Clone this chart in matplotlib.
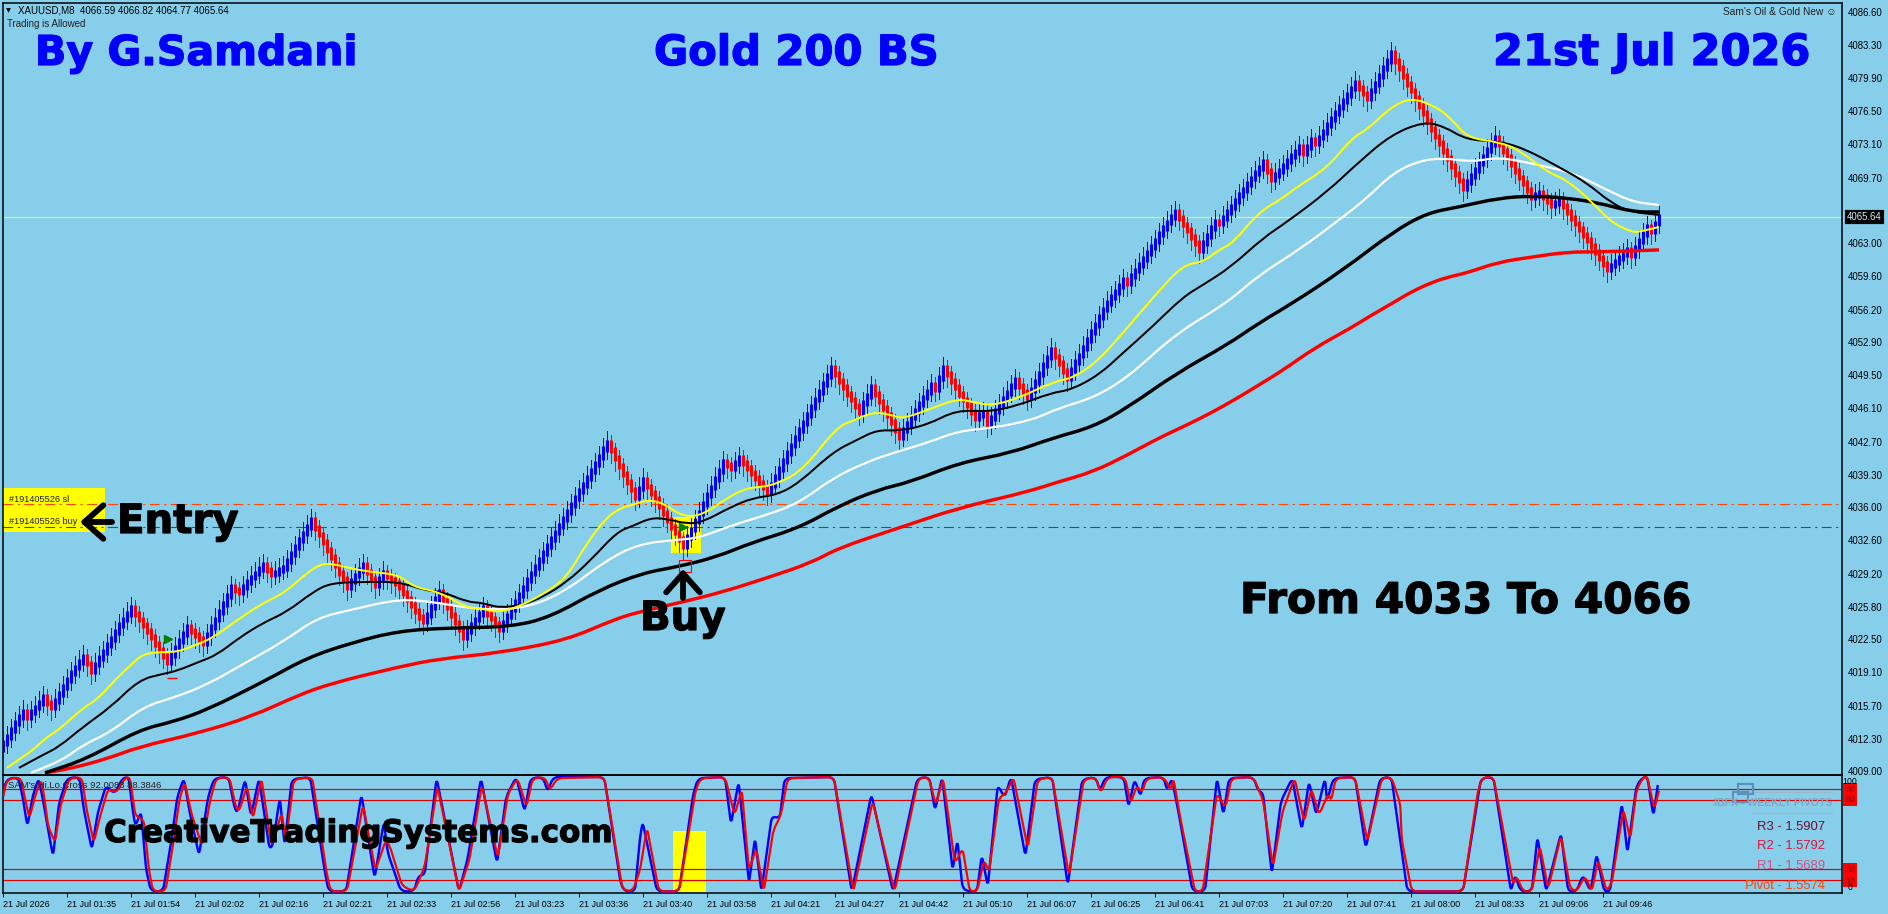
import numpy as np
import matplotlib
matplotlib.use("Agg")
import matplotlib.pyplot as plt
import matplotlib.patheffects as pe
from matplotlib.patches import Rectangle, PathPatch
from matplotlib.path import Path

# ---------- data ----------
closes = [
 4011.9,4012.5,4013.2,4013.9,4014.5,4015.1,4014.5,4015.0,4015.5,4016.0,4016.6,4016.0,4015.5,
 4016.2,4016.9,4017.6,4018.3,4019.0,4019.6,4020.2,4020.7,4020.0,4019.2,
 4019.9,4020.6,4021.2,4021.9,4022.5,4023.2,4023.9,4024.5,4025.1,4025.7,
 4025.1,4024.5,4023.9,4023.3,4022.7,4022.0,4021.4,4020.8,4020.2,
 4020.9,4021.6,4022.3,4023.0,4023.7,4023.3,4022.9,4022.5,4022.1,
 4022.9,4023.7,4024.5,4025.3,4026.1,4026.9,4027.8,4027.5,4027.3,
 4027.8,4028.3,4028.8,4029.2,4029.7,4030.1,4029.6,4029.1,4029.3,4029.6,4029.8,
 4030.5,4031.2,4031.9,4032.6,4033.3,4034.0,4034.7,
 4033.9,4033.2,4032.4,4031.6,4030.9,4030.1,4029.3,4028.6,4027.8,
 4028.4,4029.0,4029.6,4030.1,4029.4,4028.7,4028.0,4028.6,4029.3,
 4028.9,4028.5,4028.2,4027.8,4027.2,4026.6,4026.0,4025.4,4024.8,4024.3,
 4025.0,4025.8,4026.6,4027.3,4026.5,4025.8,4025.0,4024.2,4023.5,4022.7,
 4023.3,4023.9,4024.5,4025.1,4025.7,4025.1,4024.6,4024.0,4023.5,
 4024.2,4024.9,4025.6,4026.3,4027.0,4027.7,4028.5,4029.2,4029.9,4030.6,4031.3,4032.0,4032.7,
 4033.4,4034.1,4034.8,4035.5,4036.2,4036.9,4037.6,4038.3,4039.0,4039.7,4040.4,4041.1,4041.9,4042.6,
 4041.8,4041.0,4040.2,4039.4,4038.6,4037.8,4037.0,4037.9,4038.8,
 4038.1,4037.4,4036.8,4036.1,4035.4,4034.7,4034.0,4033.4,4032.7,4032.0,
 4032.9,4033.7,4034.6,4035.4,4036.3,4037.2,4038.0,4038.9,4039.7,4040.6,
 4040.3,4040.0,4040.5,4041.0,4040.5,4040.0,4039.5,4039.0,4038.5,4038.0,4037.5,
 4038.3,4039.1,4039.9,4040.7,4041.5,4042.3,4043.1,4043.9,4044.6,4045.4,4046.2,4047.0,4047.8,4048.6,4049.4,4050.2,
 4049.6,4048.9,4048.3,4047.6,4047.0,4046.3,4045.7,4046.6,4047.4,4048.3,
 4047.6,4046.8,4046.1,4045.4,4044.7,4043.9,4043.2,
 4043.9,4044.5,4045.2,4045.8,4046.5,4047.2,4047.8,4048.5,4048.1,4049.2,4050.2,
 4049.6,4048.9,4048.3,4047.6,4047.0,4046.4,4045.7,4045.1,4045.4,4045.6,4044.5,
 4045.1,4045.8,4046.4,4047.1,4047.7,4048.4,4049.0,4048.4,4047.8,4047.2,
 4048.0,4048.8,4049.6,4050.5,4051.3,4052.1,4051.4,4050.7,4049.9,4049.2,
 4050.0,4050.8,4051.5,4052.3,4053.1,4053.9,4054.6,4055.4,4056.2,4056.9,
 4057.5,4058.0,4058.6,4059.2,4058.9,
 4059.6,4060.2,4060.8,4061.4,4062.0,4062.6,4063.2,4063.9,4064.5,4065.1,4065.7,4066.2,
 4065.6,4064.9,4064.3,4063.6,4063.0,4062.3,4063.0,4063.7,4064.5,4065.2,4065.0,
 4065.6,4066.2,4066.7,4067.3,4067.9,4068.4,4069.0,4069.6,4070.2,4070.7,4071.3,4070.4,4069.5,
 4070.0,4070.4,4070.9,4071.4,4071.9,4072.3,4072.8,4072.2,4072.8,4073.5,4073.2,
 4073.8,4074.4,4075.1,4075.7,4076.3,4076.9,4077.5,4078.1,4078.8,4079.4,4078.9,4078.3,4077.8,
 4078.6,4079.3,4080.1,4080.9,4081.6,4082.4,
 4081.6,4080.9,4080.1,4079.3,4078.6,4077.8,4077.0,4076.3,4075.5,4074.7,4073.9,4073.2,4072.4,4071.7,4070.9,4070.1,4069.4,4068.6,
 4069.2,4069.9,4070.5,4071.2,4071.8,4072.5,4073.1,4073.8,
 4073.1,4072.4,4071.8,4071.1,4070.4,4069.7,4069.1,4068.4,4067.7,4067.9,4068.1,4067.7,4067.3,4066.9,4067.1,4067.4,
 4066.8,4066.2,4065.6,4065.0,4064.4,4063.8,4063.3,4062.7,4062.1,4061.5,4060.9,4060.3,
 4060.7,4061.1,4061.5,4061.9,4062.3,4061.8,4062.5,4063.2,4063.9,4064.6,4064.2,4065.0,4065.64,
]

yellow_bar = [1,5,7.5,11,14,20,23.5,28.5,32,35,40,43.5,47,52.5,57.5,65,70,76,79.5,82.5,87.5,92,99,102.5,109,116,119,124,130,136,141,146,151,155,157.5,161,165,170,175,181,186,190,194,200,208.5,212.5,217.5,222,225,232.5,238.5,242.5,247,254,262.5,267.5,273.5,280,288.5,295,300,304,307.5,314,320,323.5,331,337.5,341,347,352,357.5,362,366,374,379,386,391,397.5,402,407,409,414]
yellow_val = [4009.33,4010.46,4011.17,4012.5,4013.22,4015.47,4016.29,4018.53,4019.86,4020.99,4021.19,4021.19,4021.7,4022.62,4024.16,4026.2,4027.12,4029.27,4030.19,4030.19,4029.68,4029.37,4029.07,4027.84,4027.33,4025.69,4025.69,4025.18,4026.0,4027.33,4028.86,4032.34,4035.0,4036.02,4036.22,4036.73,4036.43,4035.0,4035.2,4036.94,4037.96,4038.06,4038.47,4039.8,4044.2,4044.81,4045.73,4045.43,4045.02,4046.14,4047.06,4046.76,4046.35,4047.16,4048.8,4049.21,4050.85,4053.81,4057.9,4060.76,4061.07,4062.3,4063.01,4066.18,4067.61,4068.74,4070.68,4073.85,4074.57,4076.92,4077.84,4077.12,4075.79,4073.75,4073.34,4072.52,4070.27,4069.45,4067.1,4065.16,4064.14,4064.14,4064.65]

thin_black_bar = [4,10,14,20,27,34,40,43.5,49,53.5,59,65,71,77.5,82,91,99,106,110,116,120,124,130,135,141,147,153.5,157.5,162,166,171,175,182,187.5,193.5,199,207.5,213.5,218.5,224,231,238.5,246,253.5,262,267,274,280,287,295,300,307,315,321,331,339,347,355,360,366,373.5,380,389,396,402,407,414]
thin_black_val = [4009.33,4010.66,4011.48,4013.52,4015.57,4018.33,4018.94,4019.25,4020.17,4020.89,4022.62,4024.16,4025.28,4027.33,4028.25,4028.35,4028.35,4027.43,4027.33,4026.3,4026.2,4025.69,4026.0,4026.82,4028.35,4030.6,4033.46,4034.08,4034.9,4034.79,4034.28,4034.48,4036.02,4036.94,4037.25,4038.47,4041.64,4042.87,4043.89,4043.79,4044.4,4045.94,4045.73,4046.35,4047.68,4047.98,4049.52,4051.77,4054.32,4057.49,4058.72,4060.56,4063.52,4065.16,4068.23,4071.3,4074.06,4075.39,4074.98,4073.54,4073.44,4072.73,4070.78,4069.15,4067.1,4066.18,4065.88]

white_bar = [7,15,20,27,35,42.5,51,61,70,78.5,87,99,107.5,116,124,132.5,141,151,159,168.5,174,182.5,191,199,207.5,216,222.5,231,239,247.5,257.5,264,272.5,281,293.5,306,314,324,335,341,347.5,354,360,367.5,374,384,392.5,401,407.5,414]
white_val = [4008.82,4010.15,4011.68,4013.01,4015.57,4016.49,4017.82,4020.17,4022.22,4024.67,4025.49,4026.61,4026.3,4025.69,4025.49,4025.9,4027.53,4030.6,4032.24,4032.65,4032.85,4034.18,4035.2,4036.43,4038.98,4040.62,4041.54,4042.56,4043.79,4044.1,4044.92,4046.14,4047.16,4049.21,4053.81,4056.88,4059.74,4062.3,4065.67,4067.61,4070.17,4071.4,4071.7,4071.3,4071.81,4070.99,4070.17,4068.43,4067.2,4066.9]

thick_black_bar = [10.5,21,34,42.5,51,66,76,87,99,112,127,137,149,160,168.5,178.5,187,199,208.5,218.5,227,239,252,262.5,272.5,281,293.5,306,314,322.5,335,347.5,356,364,374,382.5,391,399,407.5,414]
thick_black_val = [4008.82,4010.25,4013.22,4014.04,4015.26,4018.33,4020.58,4022.11,4023.34,4023.65,4023.75,4024.77,4027.53,4029.27,4029.88,4030.91,4032.34,4033.87,4036.02,4037.76,4038.58,4040.52,4041.54,4043.07,4044.2,4046.14,4049.72,4052.58,4054.83,4056.88,4060.25,4064.14,4066.08,4066.69,4067.61,4067.82,4067.61,4067.1,4066.18,4066.18]

red_ma_bar = [10.5,16.5,26,34,49,62,74,82.5,99,109,124,141,152.5,159,170,180,191,202,209,222.5,239,256,264,272.5,281,289,296,302,308,314,320,328,337,342,347.5,352,357.5,362,366,374,382.5,391,399,414]
red_ma_val = [4008.82,4009.23,4010.25,4011.48,4012.91,4014.55,4016.8,4018.02,4019.66,4020.48,4021.09,4022.42,4024.46,4025.28,4026.3,4027.33,4028.76,4030.29,4031.83,4033.67,4035.92,4037.55,4038.6,4039.6,4041.3,4043.07,4044.4,4045.63,4047.0,4048.49,4050.0,4052.3,4054.32,4055.6,4056.88,4058.0,4059.03,4059.6,4059.95,4061.07,4061.58,4062.09,4062.09,4062.3]

osc_red_bar = [0,1,4.4,5.4,6.6,8,9.5,10.3,11.3,13,14.5,16.6,19.7,20.9,22.7,24.3,26.3,28.3,30.4,31.7,33.1,35.2,36.5,37.5,40.6,42.6,44.1,45.4,47.2,49.8,51.8,53.3,56.6,58.2,59,61,62.5,64.6,67.1,69.7,70.7,72.7,77.3,80.9,81.9,86,90,93.1,95.7,96.7,99.8,102.8,105.4,108.6,114,116.6,119.7,123.7,126.3,128.6,130.9,132.4,135.5,136.7,138.5,150.3,154.9,157.4,159.25,
 161,164,169,173.2,174.4,180.5,182.9,184.7,186.5,188.3,190.2,192.6,194.4,196.2,207.7,212.6,217.4,222.9,228.9,231.4,233.2,235,238,239.9,241.7,243.5,245.3,246.5,249,250.8,252.6,256.2,258.7,262.3,266.5,270.2,273.2,274.4,276.2,280.5,281.9,283.5,284.7,285.9,290.2,292,292.6,294.4,298,299.9,303.5,305.6,307.1,312.6,315,317.5,319.9,322.9,325.3,327.1,329,331.4,332,333.2,338,341.1,344.7,347.1,349.3,
 349.7,352.2,365,368.8,370,372.6,377.6,378.4,380,382.2,384.2,386.3,389.5,391.8,393.4,395.5,397.2,398.8,400.9,402.2,405.1,406.8,408.4,410.1,411.1,412.8,414]
osc_red_val = [83,98,100,83,64,83,98,83,57,43,77,99,100,72,43,66,90,86,99,100,66,63,19,0.5,0.5,43,80,96,67,40,80,99,100,74,70,92,64,99,40,69,43,98,100,17,0.5,0.5,76,19,45,40,5,0.5,22,92,0.5,28,93,30,86,99,74,99,100,88,99,100,2,0.5,19,
 56,0.5,0.5,89,99,100,67,89,19,38,0.5,54,66,99,100,0.5,79,0.5,99,100,76,99,25,38,0.5,0.5,28,17,82,86,100,38,98,100,14,98,100,86,100,100,77,93,86,99,100,88,99,63,0.5,0.5,86,73,99,100,80,22,70,99,61,90,67,86,79,99,100,44,99,100,77,
 45,0.5,0.5,89,100,100,6,14,0.5,0.5,40,3,49,3,0.5,14,0.5,28,0.5,8,72,46,89,100,100,72,88]

osc_blue_bar = [0,0.8,3.8,4.9,6.1,7.4,8.9,10,11.3,12.5,14,16,19.1,20.2,22.2,23.7,25.8,27.8,29.9,31.4,32.4,33.1,34.5,35.8,37,40,42.1,43.6,45.2,46.7,49,51.3,52.8,56.4,57.9,58.6,60.5,62,64,66.6,67.4,69.2,70.4,72.2,76.8,80.4,81.4,85.8,89.6,92.9,95.2,96.2,99.5,102.8,103.8,105.4,108.4,114,116.1,119.5,123.5,125.8,128.3,130.4,131.9,135,136.2,137.5,150.3,154.4,155.4,158,159.25,
 159.9,163.5,169,172.6,173.8,180.5,182,183.9,186.5,188,189.6,192.2,194.2,195.4,207.7,212.2,217.1,222.5,228.6,231.6,233,234.8,237.4,238.6,239.9,241.5,243.5,244.7,246.2,248.7,250.4,252,255.6,258,262.3,266.2,269.8,273.2,274.2,275.6,280.2,281.4,282.9,284.4,285.3,290.2,291,292.2,294,297.4,300.5,303.5,305.1,306.5,312.6,313.8,315,317.2,319.5,322.3,324.7,326.5,328.3,330.5,331,332.6,338,340.7,344.3,347.1,349.3,
 351.1,365,369.5,372.6,377,378,379.4,382.2,383.6,385.8,389.5,391.3,393.4,395,396.9,398.4,400.3,401.75,404.7,406.1,408.4,410.1,411.1,412.6,413.7]
osc_blue_val = [83,98,100,83,57,83,99,80,54,31,77,99,100,72,37,69,93,85,99,100,72,57,70,19,0.5,0.5,45,83,99,69,32,83,99,100,73,69,98,66,99,38,40,82,41,98,100,19,0.5,0.5,85,12,61,34,0.5,0.5,14,15,99,0.5,28,99,25,83,100,70,99,100,87,100,100,8,0.5,0.5,47,
 61,0.5,0.5,86,99,100,59,96,8,47,0.5,66,64,99,100,0.5,85,0.5,99,100,71,100,19,45,3,0.5,0.5,32,5,93,82,100,31,98,100,6,98,100,88,100,100,74,98,83,99,100,88,99,67,0.5,0.5,99,67,99,100,88,86,16,79,99,54,96,67,99,79,99,100,38,99,100,45,
 0.5,0.5,99,100,0.5,15,0.5,0.5,48,0.5,51,0.5,0.5,15,0.5,33,0.5,0.5,77,34,93,100,100,66,93]

osc_levels = [90, 80, 20, 10]
price_ticks = [4086.60,4083.30,4079.90,4076.50,4073.10,4069.70,4063.00,4059.60,4056.20,4052.90,4049.50,4046.10,4042.70,4039.30,4036.00,4032.60,4029.20,4025.80,4022.50,4019.10,4015.70,4012.30,4009.00]
time_labels = ["21 Jul 2026","21 Jul 01:35","21 Jul 01:54","21 Jul 02:02","21 Jul 02:16","21 Jul 02:21","21 Jul 02:33","21 Jul 02:56","21 Jul 03:23","21 Jul 03:36","21 Jul 03:40","21 Jul 03:58","21 Jul 04:21","21 Jul 04:27","21 Jul 04:42","21 Jul 05:10","21 Jul 06:07","21 Jul 06:25","21 Jul 06:41","21 Jul 07:03","21 Jul 07:20","21 Jul 07:41","21 Jul 08:00","21 Jul 08:33","21 Jul 09:06","21 Jul 09:46"]
time_tick_bars = [i * 16 for i in range(len(time_labels))]
last_price = 4065.64
sl_price = 4036.3
buy_price = 4033.97
pivot_labels = ["R3 - 1.5907", "R2 - 1.5792", "R1 - 1.5689", "Pivot - 1.5574"]

# ---------- layout ----------
W, H = 1888, 914
BG = "#87CEEB"
PX = 0.72
FONT = ["Liberation Sans", "DejaVu Sans"]
plt.rcParams["font.family"] = FONT

fig = plt.figure(figsize=(W / 100, H / 100), dpi=100, facecolor=BG)

def rect(x0, y0, x1, y1):
    return [x0 / W, 1 - y1 / H, (x1 - x0) / W, (y1 - y0) / H]

def T(x, y, s, **kw):
    return fig.text(x / W, 1 - y / H, s, **kw)

ax = fig.add_axes(rect(3, 3, 1842, 775), facecolor="none", zorder=2)
ax2 = fig.add_axes(rect(3, 775, 1842, 893), facecolor="none", zorder=2)
ax.set_xlim(0, 459.75)
ax2.set_xlim(0, 459.75)
ax.set_ylim(4008.6, 4087.55)
ax2.set_ylim(-0.87, 101.74)

for a in (ax, ax2):
    for s in a.spines.values():
        s.set_linewidth(1.5 * PX)
        s.set_color("black")

def rounded(a, bx, vals, col, lw, radius, z):
    """Draw a series through its points with its corners softened, as the terminal's curves look."""
    pts = a.transData.transform(np.column_stack([bx, vals]))
    data = np.column_stack([bx, vals]).astype(float)
    verts, codes = [data[0]], [Path.MOVETO]
    for i in range(1, len(data) - 1):
        d0 = pts[i] - pts[i - 1]
        d1 = pts[i + 1] - pts[i]
        l0, l1 = np.hypot(*d0), np.hypot(*d1)
        if l0 == 0 or l1 == 0:
            continue
        f0 = min(radius, l0 / 2) / l0
        f1 = min(radius, l1 / 2) / l1
        verts.append(data[i] + (data[i - 1] - data[i]) * f0)
        codes.append(Path.LINETO)
        verts.append(data[i])
        codes.append(Path.CURVE3)
        verts.append(data[i] + (data[i + 1] - data[i]) * f1)
        codes.append(Path.CURVE3)
    verts.append(data[-1])
    codes.append(Path.LINETO)
    a.add_patch(PathPatch(Path(np.array(verts), codes), fill=False, edgecolor=col, lw=lw * PX,
                          zorder=z, joinstyle="round", capstyle="butt"))

# bars
cl = np.array(closes)
op = np.r_[cl[0] - 0.6, cl[:-1]]
xs = np.arange(len(cl))
up = cl >= op
WICK_UP_HI, WICK_UP_LO = 1.15, 1.0
WICK_DN_HI, WICK_DN_LO = 0.8, 1.3
BODY_OVERLAP = 0.3
hi = np.maximum(op, cl) + np.where(up, WICK_UP_HI, WICK_DN_HI)
lo = np.minimum(op, cl) - np.where(up, WICK_UP_LO, WICK_DN_LO)
for mask, col in ((up, "#0000FF"), (~up, "#FF0000")):
    ax.vlines(xs[mask], lo[mask], hi[mask], color=col, lw=0.95 * PX, zorder=3, antialiased=False)
    ax.vlines(xs[mask], np.minimum(op, cl)[mask] - BODY_OVERLAP, np.maximum(op, cl)[mask] + BODY_OVERLAP, color=col,
              lw=3.0 * PX, zorder=3, capstyle="butt", antialiased=True)

# moving averages
for bx, vals, col, lw in ((red_ma_bar, red_ma_val, "#FF0000", 3.4),
                          (thick_black_bar, thick_black_val, "black", 3.4),
                          (white_bar, white_val, "white", 2.2),
                          (thin_black_bar, thin_black_val, "black", 2.0),
                          (yellow_bar, yellow_val, "#FFFF00", 2.0)):
    rounded(ax, bx, vals, col, lw, 30, 4)

# horizontal levels
ax.axhline(last_price, color="#FFFF00", lw=1.1 * PX, zorder=2)
ax.axhline(sl_price, color="#FF4500", lw=1.1 * PX, ls=(0, (9, 4, 2, 4)), zorder=2)
ax.axhline(buy_price, color="#008000", lw=1.1 * PX, ls=(0, (9, 4, 2, 4)), zorder=2)

# highlight boxes
for (x0, y0, x1, y1) in ((3, 488, 105, 532), (671, 517, 701, 553), (673, 831, 706, 892)):
    fig.patches.append(Rectangle((x0 / W, 1 - y1 / H), (x1 - x0) / W, (y1 - y0) / H,
                                 transform=fig.transFigure, facecolor="#FFFF00", edgecolor="none", zorder=1))

# trade marks
ax.plot([41.25, 170], [4022.5, 4034.0], ls="none", marker=">", ms=6, color="#008000", zorder=5)
ax.plot([42.25], [4018.5], ls="none", marker="_", ms=7, mew=1, color="#FF0000", zorder=5)
ax.plot([170.5], [4030.0], ls="none", marker="s", ms=8, mfc="none", mec="#FF0000", mew=0.8, zorder=5)

# price axis
ax.yaxis.tick_right()
ax.set_yticks(price_ticks)
ax.set_yticklabels([f"{v:.2f}" for v in price_ticks], fontsize=6.9, color="black")
ax.tick_params(axis="y", length=0, pad=4)
ax.set_xticks([])
ax.text(1.0 + 5 / 1839, last_price, f"{last_price:.2f}", transform=ax.get_yaxis_transform(), fontsize=6.9,
        color="#d5eef8", va="center", ha="left", zorder=8, clip_on=False,
        bbox=dict(boxstyle="square,pad=0", fc="black", ec="black", lw=3))

# oscillator
rounded(ax2, osc_blue_bar, osc_blue_val, "#0000FF", 2.4, 6, 3)
rounded(ax2, osc_red_bar, osc_red_val, "#FF0000", 2.2, 6, 4)
for lv in osc_levels:
    ax2.axhline(lv, color="#E00000", lw=1.2 * PX, zorder=2)
ax2.set_yticks([])
ax2.set_xticks(time_tick_bars)
ax2.set_xticklabels(time_labels, fontsize=6.5, ha="left", color="black")
ax2.tick_params(axis="x", length=3, width=0.7, pad=2)

# oscillator right-hand labels
for lab, y in (("90", 789), ("80", 800), ("20", 869), ("10", 881)):
    T(1850, y, lab, fontsize=6.3, va="center", ha="center", color="#8a0000", zorder=6,
      bbox=dict(boxstyle="square,pad=0.2", fc="#FF0000", ec="none"))
for lab, y in (("100", 781), ("0", 888)):
    T(1850, y, lab, fontsize=6.3, va="center", ha="center", color="black", zorder=7)

# header texts
T(6, 10.5, "\u25BC", fontsize=4.6, va="center", ha="left", color="black", family="DejaVu Sans")
T(18, 10.5, "XAUUSD,M8  4066.59 4066.82 4064.77 4065.64", fontsize=7, va="center", ha="left", color="black")
T(7, 24, "Trading is Allowed", fontsize=7, va="center", ha="left", color="#222222")
T(1837, 12, "Sam's Oil & Gold New \u263A", fontsize=7.3, va="center", ha="right", color="#222222", family=FONT)
T(8, 786, "SAM's Hi.Lo.Cross 92.0083 88.3846", fontsize=6.8, va="center", ha="left", color="#222222", zorder=6)
T(9, 499, "#191405526 sl", fontsize=6.6, va="center", ha="left", color="#222222", zorder=6)
T(9, 522, "#191405526 buy", fontsize=6.6, va="center", ha="left", color="#222222", zorder=6)

# big captions
def big(x, y, s, size, col):
    t = T(x, y, s, fontsize=size, fontweight="bold", color=col, va="baseline", ha="left", zorder=9,
          family="DejaVu Sans")
    t.set_path_effects([pe.withStroke(linewidth=0.9, foreground=col)])
    return t

big(35, 65, "By G.Samdani", 29.6, "#0000FF")
big(654, 65, "Gold 200 BS", 30, "#0000FF")
big(1493, 65, "21st Jul 2026", 31, "#0000FF")
big(117, 533, "Entry", 29, "black")
big(640, 630, "Buy", 29, "black")
big(1240, 613, "From 4033 To 4066", 30.4, "black")
big(104, 842, "CreativeTradingSystems.com", 22.3, "black")

# arrows
def arrow(x0, y0, x1, y1):
    a = ax.annotate("", xy=(x1, H - y1), xytext=(x0, H - y0), xycoords="figure pixels", textcoords="figure pixels",
                    zorder=9, annotation_clip=False,
                    arrowprops=dict(arrowstyle="->,head_length=0.62,head_width=0.55", lw=4.2, color="black",
                                    shrinkA=0, shrinkB=0, mutation_scale=22))
    return a
arrow(112, 522, 80, 522)
arrow(683, 598, 683, 569)

# pivots panel
for s, y, col in zip(pivot_labels, (827, 846, 866, 886), ("#6B1030", "#DC143C", "#D8507F", "#FF4500")):
    T(1825, y, s, fontsize=9.4, va="center", ha="right", color=col, zorder=6)
T(1832, 803, "IBFX - WEEKLY PIVOTS", fontsize=7.6, fontweight="bold", va="center", ha="right", color="#7FA8C4", zorder=6)
for y in (792, 813):
    fig.lines.append(plt.Line2D([1752 / W, 1832 / W], [1 - y / H] * 2, transform=fig.transFigure, color="#9DB8C8", lw=0.9, zorder=5))
for x0, y0, x1, y1 in ((1738, 784, 1753, 794), (1733, 792, 1748, 802)):
    fig.patches.append(Rectangle((x0 / W, 1 - y1 / H), (x1 - x0) / W, (y1 - y0) / H, transform=fig.transFigure,
                                 fill=False, edgecolor="#5B92BC", lw=1.6, zorder=6))

fig.savefig("out.png", dpi=100, facecolor=BG)
